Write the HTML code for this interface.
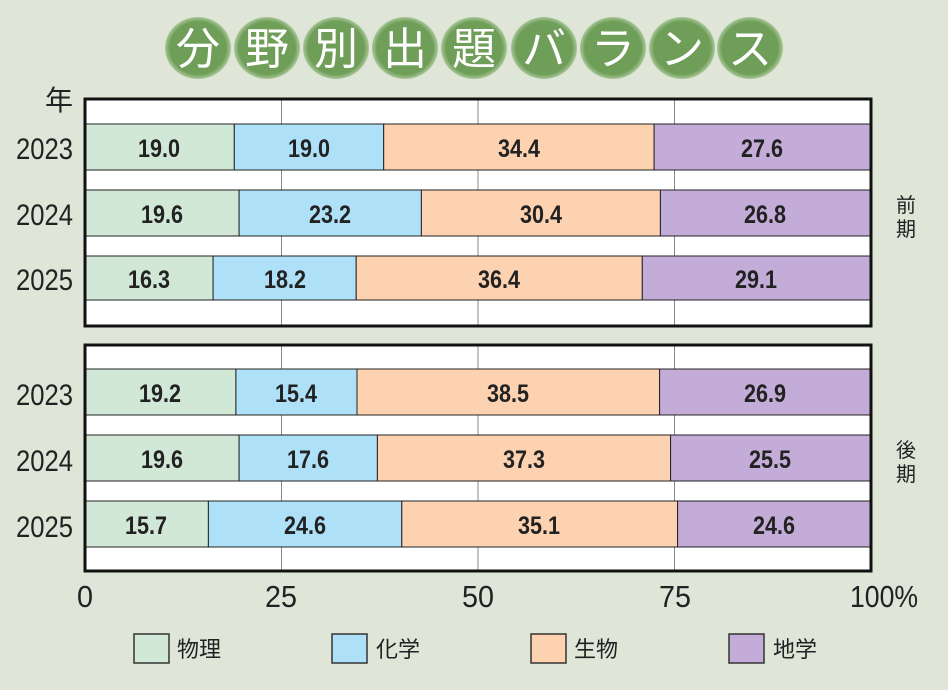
<!DOCTYPE html>
<html><head><meta charset="utf-8"><style>
html,body{margin:0;padding:0;background:#dfe6d8;}
svg{display:block}
text{font-family:"Liberation Sans","Noto Sans CJK JP",sans-serif;}
</style></head><body>
<svg width="948" height="690" viewBox="0 0 948 690" xmlns="http://www.w3.org/2000/svg">
<rect width="948" height="690" fill="#dfe6d8"/>
<defs><radialGradient id="g" cx="50%" cy="50%" r="50%"><stop offset="85%" stop-color="#6f9e58"/><stop offset="100%" stop-color="#a9c79a"/></radialGradient></defs>
<g fill="url(#g)">
<ellipse cx="198" cy="48" rx="33" ry="31"/><ellipse cx="267" cy="48" rx="33" ry="31"/><ellipse cx="336" cy="48" rx="33" ry="31"/><ellipse cx="405" cy="48" rx="33" ry="31"/><ellipse cx="474" cy="48" rx="33" ry="31"/><ellipse cx="544" cy="48" rx="33" ry="31"/><ellipse cx="613" cy="48" rx="33" ry="31"/><ellipse cx="682" cy="48" rx="33" ry="31"/><ellipse cx="750" cy="48" rx="33" ry="31"/>
</g>
<g fill="#fff" font-size="44" text-anchor="middle">
<text x="198" y="64">分</text><text x="267" y="64">野</text><text x="336" y="64">別</text><text x="405" y="64">出</text><text x="474" y="64">題</text><text x="544" y="64">バ</text><text x="613" y="64">ラ</text><text x="682" y="64">ン</text><text x="750" y="64">ス</text>
</g>
<rect x="85" y="99" width="786" height="227" fill="#fff"/>
<rect x="85" y="345" width="786" height="226" fill="#fff"/>
<g stroke="#888" stroke-width="1">
<line x1="281.5" y1="99" x2="281.5" y2="326"/><line x1="478" y1="99" x2="478" y2="326"/><line x1="674.5" y1="99" x2="674.5" y2="326"/>
<line x1="281.5" y1="345" x2="281.5" y2="571"/><line x1="478" y1="345" x2="478" y2="571"/><line x1="674.5" y1="345" x2="674.5" y2="571"/>
</g>
<g stroke="#222" stroke-width="1">
<rect x="85" y="124" width="149.3" height="46" fill="#d2e8d6"/><rect x="234.3" y="124" width="149.4" height="46" fill="#aee0f8"/><rect x="383.7" y="124" width="270.4" height="46" fill="#fdd2b0"/><rect x="654.1" y="124" width="216.9" height="46" fill="#c4acd8"/>
<rect x="85" y="190" width="154.1" height="46" fill="#d2e8d6"/><rect x="239.1" y="190" width="182.3" height="46" fill="#aee0f8"/><rect x="421.4" y="190" width="239" height="46" fill="#fdd2b0"/><rect x="660.4" y="190" width="210.6" height="46" fill="#c4acd8"/>
<rect x="85" y="256" width="128.1" height="44" fill="#d2e8d6"/><rect x="213.1" y="256" width="143.1" height="44" fill="#aee0f8"/><rect x="356.2" y="256" width="286.1" height="44" fill="#fdd2b0"/><rect x="642.3" y="256" width="228.7" height="44" fill="#c4acd8"/>
<rect x="85" y="369" width="150.9" height="46" fill="#d2e8d6"/><rect x="235.9" y="369" width="121.1" height="46" fill="#aee0f8"/><rect x="357" y="369" width="302.6" height="46" fill="#fdd2b0"/><rect x="659.6" y="369" width="211.4" height="46" fill="#c4acd8"/>
<rect x="85" y="435" width="154.1" height="46" fill="#d2e8d6"/><rect x="239.1" y="435" width="138.3" height="46" fill="#aee0f8"/><rect x="377.4" y="435" width="293.2" height="46" fill="#fdd2b0"/><rect x="670.6" y="435" width="200.4" height="46" fill="#c4acd8"/>
<rect x="85" y="501" width="123.4" height="46" fill="#d2e8d6"/><rect x="208.4" y="501" width="193.4" height="46" fill="#aee0f8"/><rect x="401.8" y="501" width="275.8" height="46" fill="#fdd2b0"/><rect x="677.6" y="501" width="193.4" height="46" fill="#c4acd8"/>
</g>
<rect x="85" y="99" width="786" height="227" fill="none" stroke="#111" stroke-width="3"/>
<rect x="85" y="345" width="786" height="226" fill="none" stroke="#111" stroke-width="3"/>
<g font-size="25" font-weight="bold" fill="#222" text-anchor="middle" lengthAdjust="spacingAndGlyphs">
<g transform="translate(0,157)"><text x="159" textLength="42" lengthAdjust="spacingAndGlyphs">19.0</text><text x="309" textLength="42" lengthAdjust="spacingAndGlyphs">19.0</text><text x="519" textLength="42" lengthAdjust="spacingAndGlyphs">34.4</text><text x="762" textLength="42" lengthAdjust="spacingAndGlyphs">27.6</text></g>
<g transform="translate(0,223)"><text x="162" textLength="42" lengthAdjust="spacingAndGlyphs">19.6</text><text x="330" textLength="42" lengthAdjust="spacingAndGlyphs">23.2</text><text x="541" textLength="42" lengthAdjust="spacingAndGlyphs">30.4</text><text x="765" textLength="42" lengthAdjust="spacingAndGlyphs">26.8</text></g>
<g transform="translate(0,288)"><text x="149" textLength="42" lengthAdjust="spacingAndGlyphs">16.3</text><text x="285" textLength="42" lengthAdjust="spacingAndGlyphs">18.2</text><text x="499" textLength="42" lengthAdjust="spacingAndGlyphs">36.4</text><text x="756" textLength="42" lengthAdjust="spacingAndGlyphs">29.1</text></g>
<g transform="translate(0,402)"><text x="160" textLength="42" lengthAdjust="spacingAndGlyphs">19.2</text><text x="296" textLength="42" lengthAdjust="spacingAndGlyphs">15.4</text><text x="508" textLength="42" lengthAdjust="spacingAndGlyphs">38.5</text><text x="765" textLength="42" lengthAdjust="spacingAndGlyphs">26.9</text></g>
<g transform="translate(0,468)"><text x="162" textLength="42" lengthAdjust="spacingAndGlyphs">19.6</text><text x="308" textLength="42" lengthAdjust="spacingAndGlyphs">17.6</text><text x="524" textLength="42" lengthAdjust="spacingAndGlyphs">37.3</text><text x="770" textLength="42" lengthAdjust="spacingAndGlyphs">25.5</text></g>
<g transform="translate(0,534)"><text x="146" textLength="42" lengthAdjust="spacingAndGlyphs">15.7</text><text x="305" textLength="42" lengthAdjust="spacingAndGlyphs">24.6</text><text x="539" textLength="42" lengthAdjust="spacingAndGlyphs">35.1</text><text x="774" textLength="42" lengthAdjust="spacingAndGlyphs">24.6</text></g>
</g>
<g font-size="30" fill="#222">
<text x="16" y="159" textLength="57" lengthAdjust="spacingAndGlyphs">2023</text><text x="16" y="225" textLength="57" lengthAdjust="spacingAndGlyphs">2024</text><text x="16" y="290" textLength="57" lengthAdjust="spacingAndGlyphs">2025</text>
<text x="16" y="405" textLength="57" lengthAdjust="spacingAndGlyphs">2023</text><text x="16" y="471" textLength="57" lengthAdjust="spacingAndGlyphs">2024</text><text x="16" y="537" textLength="57" lengthAdjust="spacingAndGlyphs">2025</text>
<text x="45" y="110" font-size="28">年</text>
</g>
<g font-size="20" fill="#222" text-anchor="middle">
<text x="906" y="212">前</text><text x="906" y="236">期</text>
<text x="906" y="457">後</text><text x="906" y="481">期</text>
</g>
<g font-size="31" fill="#222">
<text x="77" y="607" textLength="16" lengthAdjust="spacingAndGlyphs">0</text><text x="265" y="607" textLength="32" lengthAdjust="spacingAndGlyphs">25</text><text x="462" y="607" textLength="32" lengthAdjust="spacingAndGlyphs">50</text><text x="659" y="607" textLength="32" lengthAdjust="spacingAndGlyphs">75</text><text x="850" y="607" textLength="68" lengthAdjust="spacingAndGlyphs">100%</text>
</g>
<g stroke="#333" stroke-width="1.5">
<rect x="134" y="634" width="35" height="29" fill="#d2e8d6"/>
<rect x="332" y="634" width="35" height="29" fill="#aee0f8"/>
<rect x="531" y="634" width="35" height="29" fill="#fdd2b0"/>
<rect x="729" y="634" width="35" height="29" fill="#c4acd8"/>
</g>
<g font-size="22" fill="#222">
<text x="177" y="657">物理</text><text x="376" y="657">化学</text><text x="574" y="657">生物</text><text x="773" y="657">地学</text>
</g>
</svg>
</body></html>
